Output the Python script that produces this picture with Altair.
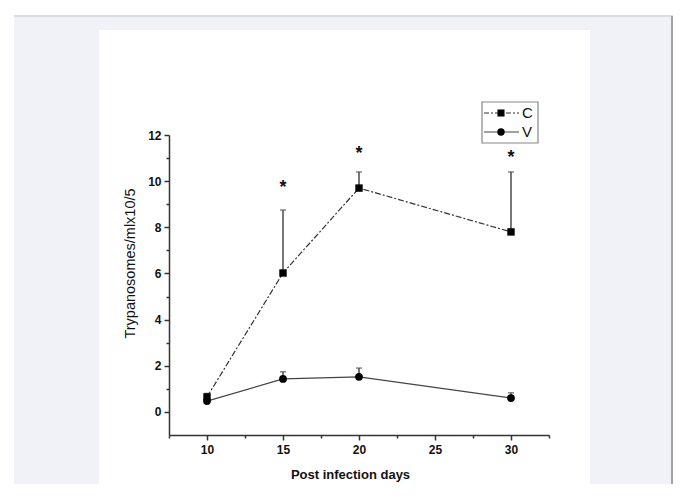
import altair as alt
import pandas as pd

# ---- data ----
days = [10, 15, 20, 30]
c_mean = [0.65, 6.02, 9.70, 7.80]
c_upper = [0.80, 8.75, 10.40, 10.40]
v_mean = [0.47, 1.43, 1.52, 0.60]
v_upper = [0.55, 1.74, 1.90, 0.83]
star_days = [15, 20, 30]
star_y = [9.9, 11.4, 11.2]
x_major = [10, 15, 20, 25, 30]
x_minor = [7.5, 12.5, 17.5, 22.5, 27.5, 32.5]
y_major = [0, 2, 4, 6, 8, 10, 12]
y_minor = [1, 3, 5, 7, 9, 11]

df_c = pd.DataFrame({"day": days, "mean": c_mean, "upper": c_upper})
df_v = pd.DataFrame({"day": days, "mean": v_mean, "upper": v_upper})
df_star = pd.DataFrame({"day": star_days, "y": star_y, "t": ["*"] * len(star_days)})
one = pd.DataFrame({"a": [0]})

FONT = "Liberation Sans"
AX = "#333333"

xscale = alt.Scale(domain=[7.5, 32.5], nice=False, zero=False)
yscale = alt.Scale(domain=[-1, 12], nice=False, zero=False)

x_axis = alt.Axis(
    values=x_major, format="d", orient="bottom",
    tickSize=5, labelOverlap=False, grid=False, zindex=1,
    domainColor=AX, domainWidth=1.5, tickColor=AX, tickWidth=1.5,
    labelFont=FONT, labelFontSize=12, labelFontWeight="bold", labelColor="#111",
    labelPadding=4,
    title="Post infection days", titleFont=FONT, titleFontSize=13,
    titleFontWeight="bold", titleColor="#111", titleX=181, titleY=43,
    titleBaseline="alphabetic", titleAlign="center",
)
y_axis = alt.Axis(
    values=y_major, format="d", orient="left",
    tickSize=5, labelOverlap=False, grid=False, zindex=1,
    domainColor=AX, domainWidth=1.5, tickColor=AX, tickWidth=1.5,
    labelFont=FONT, labelFontSize=12, labelFontWeight="bold", labelColor="#111",
    labelPadding=3,
    title="Trypanosomes/mlx10/5", titleFont=FONT, titleFontSize=14.5,
    titleFontWeight="normal", titleColor="#111", titleX=-35, titleY=128,
    titleBaseline="alphabetic", titleAlign="center", titleAngle=270,
)
x_axis_minor = alt.Axis(
    values=x_minor, orient="bottom", labels=False, domain=False, grid=False,
    tickSize=3, tickColor=AX, tickWidth=1.5, zindex=1, title=None,
)
y_axis_minor = alt.Axis(
    values=y_minor, orient="left", labels=False, domain=False, grid=False,
    tickSize=3, tickColor=AX, tickWidth=1.5, zindex=1, title=None,
)

# ---- page decoration ----
gray_bg = alt.Chart(one).mark_rect(fill="#f1f2f7").encode(
    x=alt.value(-155), x2=alt.value(504), y=alt.value(-118), y2=alt.value(349))
top_line = alt.Chart(one).mark_rule(color="#cfd2db", strokeWidth=1.5).encode(
    x=alt.value(-155), x2=alt.value(504), y=alt.value(-119))
right_line = alt.Chart(one).mark_rule(color="#888", strokeWidth=1.5).encode(
    x=alt.value(503), y=alt.value(-119), y2=alt.value(349))
white_panel = alt.Chart(one).mark_rect(fill="white").encode(
    x=alt.value(-70), x2=alt.value(421), y=alt.value(-105), y2=alt.value(349))

# ---- data layers ----
def X(axis=None):
    return alt.X("day:Q", scale=xscale, axis=axis)

c_line = alt.Chart(df_c).mark_line(color="#333", strokeWidth=1.2, strokeDash=[6, 2, 2, 2]).encode(
    x=X(x_axis), y=alt.Y("mean:Q", scale=yscale, axis=y_axis))
v_line = alt.Chart(df_v).mark_line(color="#444", strokeWidth=1.2).encode(
    x=X(x_axis_minor), y=alt.Y("mean:Q", scale=yscale, axis=y_axis_minor))

def errbars(df):
    r = alt.Chart(df).mark_rule(color="#555", strokeWidth=1.6).encode(
        x=X(), y=alt.Y("mean:Q", scale=yscale, axis=None), y2="upper:Q")
    cap = alt.Chart(df).mark_tick(color="#555", orient="horizontal", size=6, thickness=1.5).encode(
        x=X(), y=alt.Y("upper:Q", scale=yscale, axis=None))
    return [r, cap]

c_pts = alt.Chart(df_c).mark_square(color="#000", size=55, opacity=1).encode(
    x=X(), y=alt.Y("mean:Q", scale=yscale, axis=None))
v_pts = alt.Chart(df_v).mark_circle(color="#000", size=60, opacity=1).encode(
    x=X(), y=alt.Y("mean:Q", scale=yscale, axis=None))

stars = alt.Chart(df_star).mark_text(
    font=FONT, fontSize=18, fontWeight="bold", color="#111", baseline="alphabetic", dy=10
).encode(x=X(), y=alt.Y("y:Q", scale=yscale, axis=None), text="t:N")

# ---- legend ----
leg_box = alt.Chart(one).mark_rect(fill="white", stroke="#888", strokeWidth=1.2).encode(
    x=alt.value(313), x2=alt.value(369), y=alt.value(-33), y2=alt.value(8))
leg_c_line = alt.Chart(one).mark_rule(color="#333", strokeWidth=1.2, strokeDash=[5, 2, 2, 2]).encode(
    x=alt.value(315), x2=alt.value(350), y=alt.value(-22))
leg_c_pt = alt.Chart(one).mark_square(color="#000", size=50, opacity=1).encode(
    x=alt.value(332), y=alt.value(-22))
leg_c_txt = alt.Chart(one).mark_text(font=FONT, fontSize=15, color="#111", align="left", baseline="middle").encode(
    x=alt.value(353), y=alt.value(-22), text=alt.value("C"))
leg_v_line = alt.Chart(one).mark_rule(color="#444", strokeWidth=1.2).encode(
    x=alt.value(315), x2=alt.value(350), y=alt.value(-3))
leg_v_pt = alt.Chart(one).mark_circle(color="#000", size=55, opacity=1).encode(
    x=alt.value(332), y=alt.value(-3))
leg_v_txt = alt.Chart(one).mark_text(font=FONT, fontSize=15, color="#111", align="left", baseline="middle").encode(
    x=alt.value(353), y=alt.value(-3), text=alt.value("V"))

chart = alt.layer(
    gray_bg, top_line, right_line, white_panel,
    c_line, v_line, *errbars(df_c), *errbars(df_v), c_pts, v_pts, stars,
    leg_box, leg_c_line, leg_c_pt, leg_c_txt, leg_v_line, leg_v_pt, leg_v_txt,
).resolve_axis(x="independent", y="independent").properties(
    width=380, height=300,
    autosize="none",
    padding={"left": 161, "top": 127, "right": 124, "bottom": 49},
    background="white",
).configure_view(strokeWidth=0)

chart.save("out.html", embed_options={"renderer": "svg", "actions": False})
